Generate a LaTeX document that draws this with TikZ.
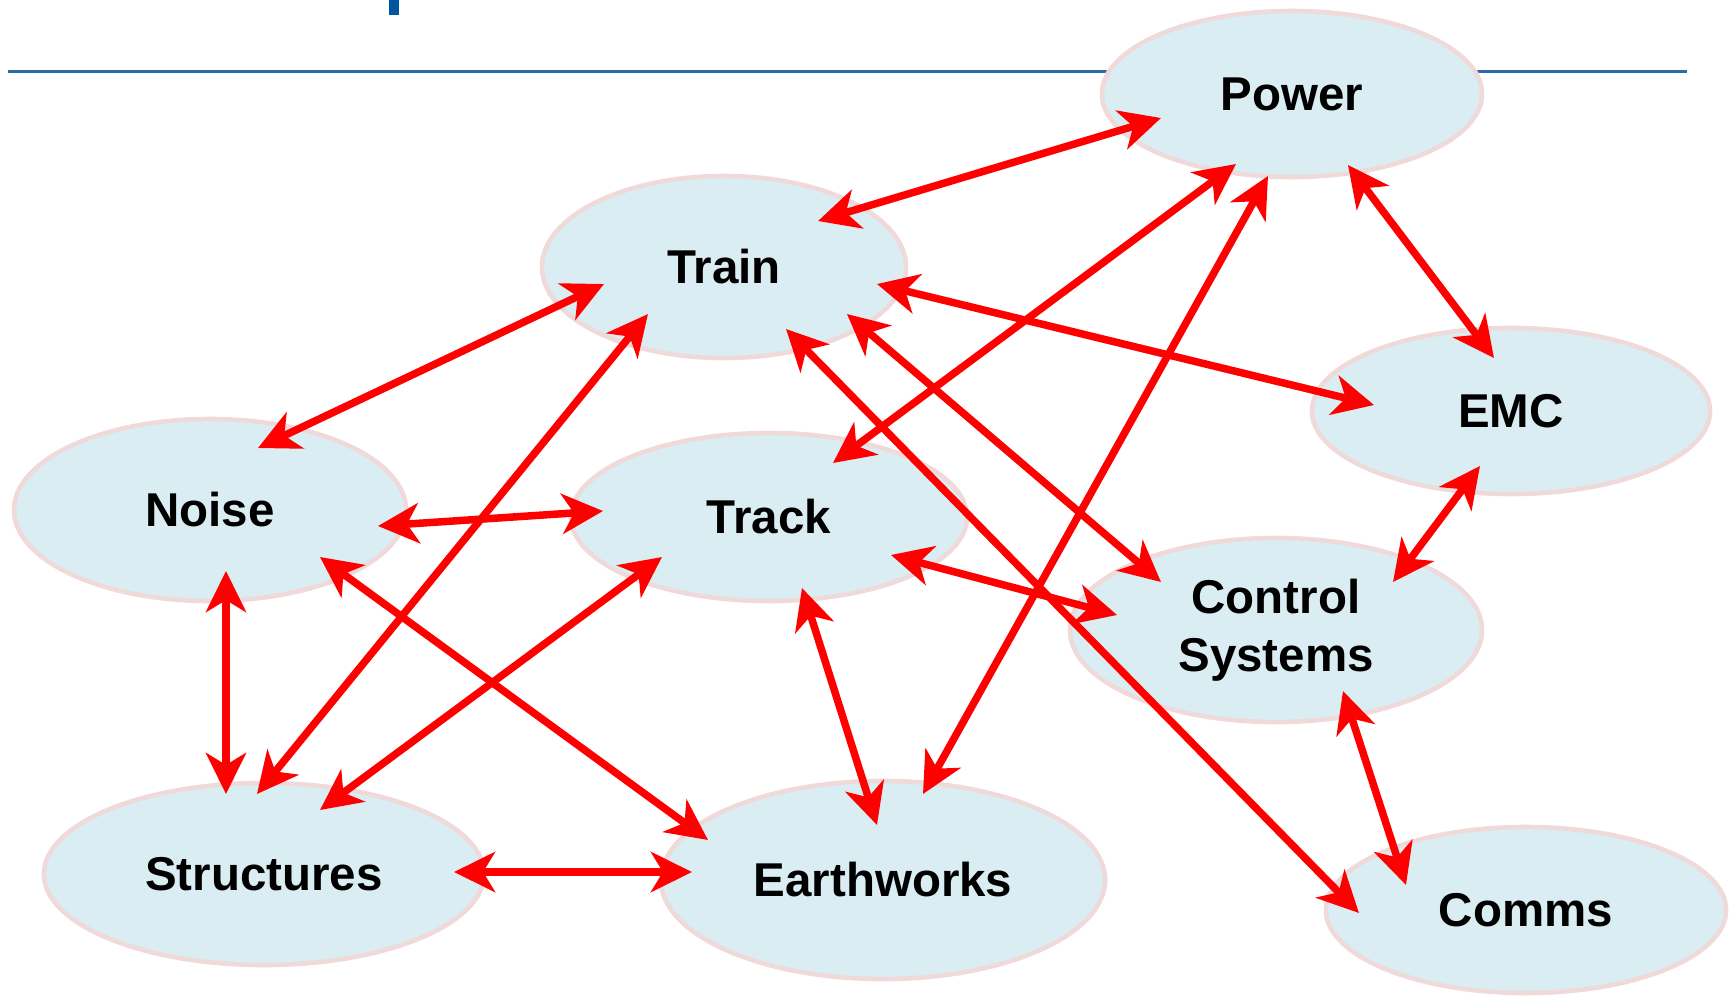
\documentclass[tikz,border=0pt]{standalone}
\usepackage{fontspec}
\setmainfont{Liberation Sans}
\usetikzlibrary{shapes.geometric,arrows.meta}

\definecolor{bubble}{HTML}{DAEDF3}
\definecolor{rim}{HTML}{F0D9D9}
\definecolor{rulecol}{HTML}{2C6BA8}
\definecolor{markcol}{HTML}{00579F}

\tikzset{
 topic/.style={ellipse, fill=bubble, draw=rim, line width=0.045cm, inner sep=0pt,
  font=\fontsize{13.5}{16.5}\selectfont\bfseries, align=center},
 link/.style={red, line width=0.075cm,
  {Stealth[length=0.41cm,width=0.4cm,inset=0.12cm]}-{Stealth[length=0.41cm,width=0.4cm,inset=0.12cm]}}
}

\begin{document}
\begin{tikzpicture}[x=0.01cm,y=-0.01cm]

\useasboundingbox (0,0) rectangle (1729,996);

\fill[markcol] (389,0) rectangle (399,15);

\draw[rulecol, line width=0.03cm] (8,71.5)--(1687,71.5);

\node[topic, minimum width=3.8cm, minimum height=1.66cm] (power) at (1292,94) {Power};

\node[topic, minimum width=3.64cm, minimum height=1.82cm] (train) at (724,267) {Train};

\node[topic, minimum width=3.98cm, minimum height=1.66cm] (emc) at (1511,411) {EMC};

\node[topic, minimum width=3.92cm, minimum height=1.82cm] (noise) at (210,510) {Noise};

\node[topic, minimum width=3.96cm, minimum height=1.68cm] (track) at (769,517) {Track};

\node[topic, minimum width=4.12cm, minimum height=1.84cm] (ctrl) at (1276,630) {Control\\Systems};

\node[topic, minimum width=4.4cm, minimum height=1.82cm] (struc) at (264,874) {Structures};

\node[topic, minimum width=4.44cm, minimum height=1.98cm] (earth) at (883,880) {Earthworks};

\node[topic, minimum width=4cm, minimum height=1.66cm] (comms) at (1526,910) {Comms};

% links from train
\draw[link] ([shift={(94,-46)}]train.center)--([shift={(-131,24)}]power.center);
\draw[link] ([shift={(-120,17)}]train.center)--([shift={(48,-62)}]noise.center);
\draw[link] ([shift={(-76,47)}]train.center)--([shift={(-7,-80)}]struc.center);
\draw[link] ([shift={(153,17)}]train.center)--([shift={(-137,-6)}]emc.center);
\draw[link] ([shift={(123,47)}]train.center)--([shift={(-115,-48)}]ctrl.center);
\draw[link] ([shift={(62,62)}]train.center)--([shift={(-167,3)}]comms.center);

% links from power
\draw[link] ([shift={(-56,70)}]power.center)--([shift={(64,-54)}]track.center);
\draw[link] ([shift={(-24,82)}]power.center)--([shift={(40,-86)}]earth.center);
\draw[link] ([shift={(56,71)}]power.center)--([shift={(-17,-53)}]emc.center);

% links from noise
\draw[link] ([shift={(168,16)}]noise.center)--([shift={(-166,-6)}]track.center);
\draw[link] ([shift={(16,61)}]noise.center)--([shift={(-38,-80)}]struc.center);
\draw[link] ([shift={(110,47)}]noise.center)--([shift={(-175,-40)}]earth.center);

% links from track
\draw[link] ([shift={(-107,40)}]track.center)--([shift={(56,-64)}]struc.center);
\draw[link] ([shift={(122,38)}]track.center)--([shift={(-159,-15)}]ctrl.center);
\draw[link] ([shift={(33,71)}]track.center)--([shift={(-6,-55)}]earth.center);

% the rest
\draw[link] ([shift={(-31,55)}]emc.center)--([shift={(117,-48)}]ctrl.center);
\draw[link] ([shift={(67,61)}]ctrl.center)--([shift={(-120,-25)}]comms.center);
\draw[link] ([shift={(190,-2)}]struc.center)--([shift={(-191,-8)}]earth.center);

\end{tikzpicture}
\end{document}
